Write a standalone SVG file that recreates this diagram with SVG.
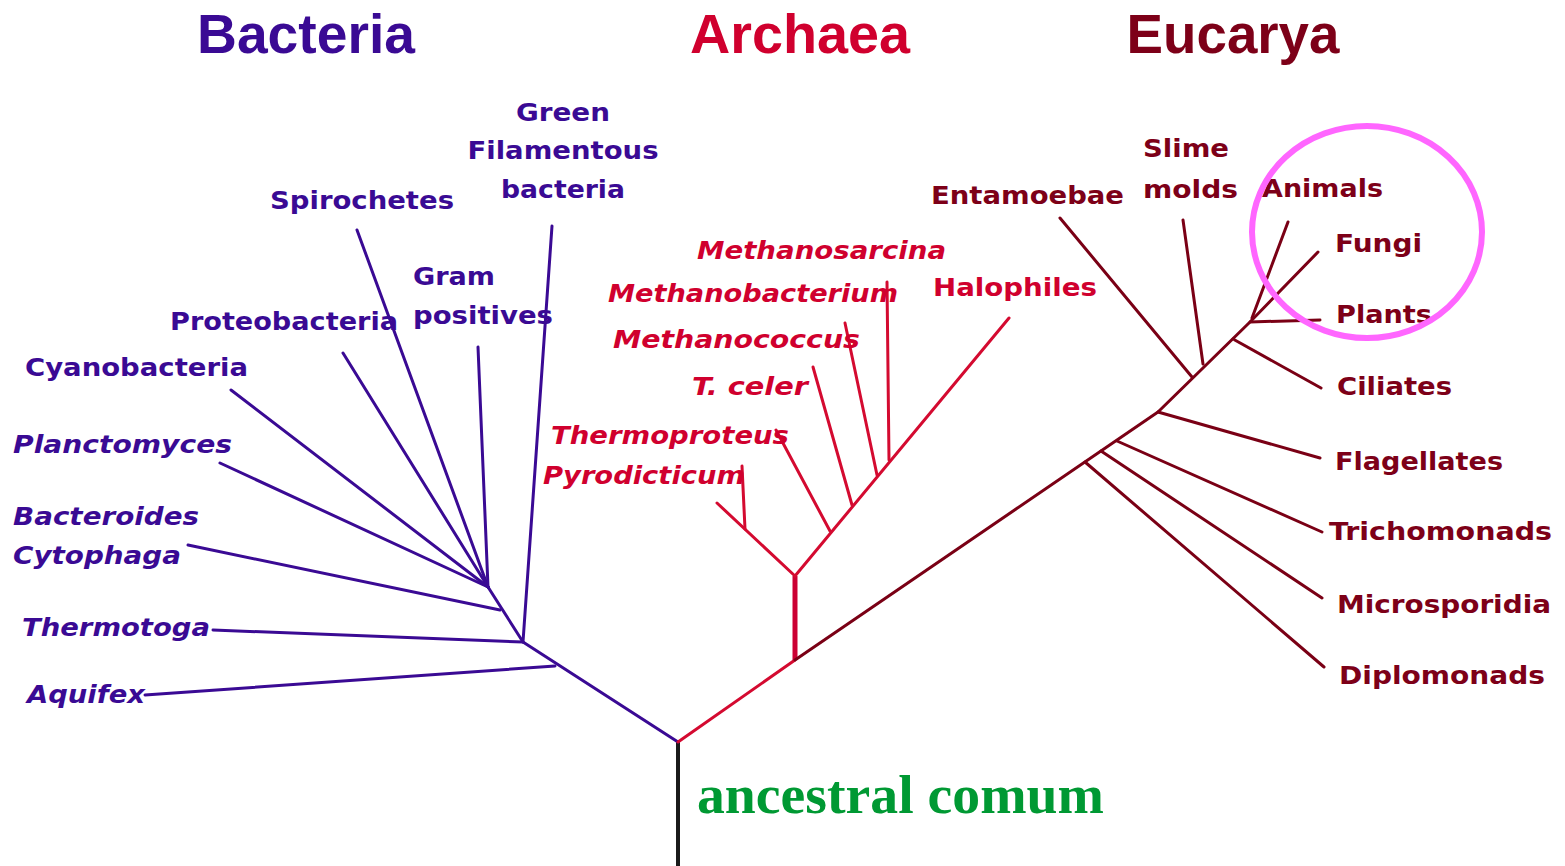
<svg xmlns="http://www.w3.org/2000/svg" width="1565" height="866" viewBox="0 0 1565 866">
<style>
.hdr{font-family:"Liberation Sans",Arial,sans-serif;font-weight:bold;font-size:55px}
.lbl{font-family:"DejaVu Sans",Verdana,sans-serif;font-weight:bold;font-size:25px}
.it{font-style:italic}
.bac{fill:#3a0a94}
.arc{fill:#d0002e}
.euc{fill:#7d0018}
.lb{stroke:#3a0a94;stroke-width:3;fill:none;stroke-linecap:round;stroke-linejoin:round}
.la{stroke:#d40a30;stroke-width:3;fill:none;stroke-linecap:round;stroke-linejoin:round}
.le{stroke:#7a0015;stroke-width:3;fill:none;stroke-linecap:round;stroke-linejoin:round}
</style>
<rect width="1565" height="866" fill="#ffffff"/>

<g id="headers">
<text class="hdr bac" x="306" y="53" text-anchor="middle" textLength="218" lengthAdjust="spacingAndGlyphs">Bacteria</text>
<text class="hdr arc" x="800" y="53" text-anchor="middle" textLength="220" lengthAdjust="spacingAndGlyphs">Archaea</text>
<text class="hdr euc" x="1233" y="53" text-anchor="middle" textLength="213" lengthAdjust="spacingAndGlyphs">Eucarya</text>
</g>

<g id="connectors">
<line x1="678" y1="742" x2="678" y2="866" stroke="#1a1a1a" stroke-width="4"/>
<!-- Bacteria -->
<polyline class="lb" points="678,742 523,642 488,587"/>
<line class="lb" x1="523" y1="642" x2="552" y2="226"/>
<line class="lb" x1="523" y1="642" x2="213" y2="630"/>
<line class="lb" x1="555" y1="666" x2="145" y2="695"/>
<line class="lb" x1="500" y1="610" x2="188" y2="545"/>
<line class="lb" x1="488" y1="587" x2="220" y2="463"/>
<line class="lb" x1="488" y1="587" x2="231" y2="390"/>
<line class="lb" x1="488" y1="587" x2="343" y2="353"/>
<line class="lb" x1="488" y1="587" x2="357" y2="230"/>
<line class="lb" x1="488" y1="587" x2="478" y2="347"/>
<!-- Archaea -->
<line class="la" x1="678" y1="742" x2="795" y2="660"/>
<line x1="795" y1="660" x2="795" y2="576" stroke="#cc0033" stroke-width="5"/>
<line class="la" x1="795" y1="576" x2="717" y2="503"/>
<line class="la" x1="745" y1="529" x2="742" y2="466"/>
<line class="la" x1="795" y1="576" x2="1009" y2="318"/>
<line class="la" x1="830" y1="531" x2="776" y2="430"/>
<line class="la" x1="852" y1="505" x2="813" y2="367"/>
<line class="la" x1="877" y1="475" x2="845" y2="323"/>
<line class="la" x1="889" y1="460" x2="887" y2="282"/>
<!-- Eucarya -->
<polyline class="le" points="795,660 1158,412 1250,322 1318,252"/>
<line class="le" x1="1085" y1="462" x2="1324" y2="667"/>
<line class="le" x1="1101" y1="451" x2="1322" y2="598"/>
<line class="le" x1="1117" y1="441" x2="1322" y2="532"/>
<line class="le" x1="1158" y1="412" x2="1320" y2="458"/>
<line class="le" x1="1233" y1="339" x2="1321" y2="388"/>
<line class="le" x1="1250" y1="322" x2="1320" y2="320"/>
<line class="le" x1="1252" y1="318" x2="1288" y2="222"/>
<line class="le" x1="1203" y1="364" x2="1183" y2="220"/>
<line class="le" x1="1192" y1="377" x2="1060" y2="218"/>
</g>

<g id="bacteria-labels" class="lbl bac">
<text x="563" y="121" text-anchor="middle" textLength="94" lengthAdjust="spacingAndGlyphs">Green</text>
<text x="563" y="159" text-anchor="middle" textLength="191" lengthAdjust="spacingAndGlyphs">Filamentous</text>
<text x="563" y="198" text-anchor="middle" textLength="124" lengthAdjust="spacingAndGlyphs">bacteria</text>
<text x="270" y="209" textLength="184" lengthAdjust="spacingAndGlyphs">Spirochetes</text>
<text x="413" y="285" textLength="82" lengthAdjust="spacingAndGlyphs">Gram</text>
<text x="413" y="324" textLength="140" lengthAdjust="spacingAndGlyphs">positives</text>
<text x="170" y="330" textLength="228" lengthAdjust="spacingAndGlyphs">Proteobacteria</text>
<text x="25" y="376" textLength="223" lengthAdjust="spacingAndGlyphs">Cyanobacteria</text>
<text class="it" x="13" y="453" textLength="219" lengthAdjust="spacingAndGlyphs">Planctomyces</text>
<text class="it" x="13" y="525" textLength="186" lengthAdjust="spacingAndGlyphs">Bacteroides</text>
<text class="it" x="13" y="564" textLength="168" lengthAdjust="spacingAndGlyphs">Cytophaga</text>
<text class="it" x="22" y="636" textLength="188" lengthAdjust="spacingAndGlyphs">Thermotoga</text>
<text class="it" x="27" y="703" textLength="118" lengthAdjust="spacingAndGlyphs">Aquifex</text>
</g>

<g id="archaea-labels" class="lbl arc">
<text class="it" x="697" y="259" textLength="249" lengthAdjust="spacingAndGlyphs">Methanosarcina</text>
<text class="it" x="608" y="302" textLength="290" lengthAdjust="spacingAndGlyphs">Methanobacterium</text>
<text class="it" x="613" y="348" textLength="247" lengthAdjust="spacingAndGlyphs">Methanococcus</text>
<text class="it" x="692" y="395" textLength="116" lengthAdjust="spacingAndGlyphs">T. celer</text>
<text class="it" x="551" y="444" textLength="238" lengthAdjust="spacingAndGlyphs">Thermoproteus</text>
<text class="it" x="543" y="484" textLength="202" lengthAdjust="spacingAndGlyphs">Pyrodicticum</text>
<text x="933" y="296" textLength="164" lengthAdjust="spacingAndGlyphs">Halophiles</text>
</g>

<g id="eucarya-labels" class="lbl euc">
<text x="1143" y="157" textLength="86" lengthAdjust="spacingAndGlyphs">Slime</text>
<text x="1143" y="198" textLength="95" lengthAdjust="spacingAndGlyphs">molds</text>
<text x="931" y="204" textLength="193" lengthAdjust="spacingAndGlyphs">Entamoebae</text>
<text x="1262" y="197" textLength="121" lengthAdjust="spacingAndGlyphs">Animals</text>
<text x="1335" y="252" textLength="87" lengthAdjust="spacingAndGlyphs">Fungi</text>
<text x="1336" y="323" textLength="96" lengthAdjust="spacingAndGlyphs">Plants</text>
<text x="1337" y="395" textLength="115" lengthAdjust="spacingAndGlyphs">Ciliates</text>
<text x="1335" y="470" textLength="168" lengthAdjust="spacingAndGlyphs">Flagellates</text>
<text x="1329" y="540" textLength="223" lengthAdjust="spacingAndGlyphs">Trichomonads</text>
<text x="1337" y="613" textLength="214" lengthAdjust="spacingAndGlyphs">Microsporidia</text>
<text x="1339" y="684" textLength="206" lengthAdjust="spacingAndGlyphs">Diplomonads</text>
</g>

<g id="highlight">
<ellipse cx="1367" cy="232" rx="115" ry="106" fill="none" stroke="#ff66ff" stroke-width="6"/>
</g>

<g id="root-label">
<text x="697" y="813" font-family="'Liberation Serif','Times New Roman',serif" font-weight="bold" font-size="55" fill="#009933" textLength="407" lengthAdjust="spacingAndGlyphs">ancestral comum</text>
</g>
</svg>
